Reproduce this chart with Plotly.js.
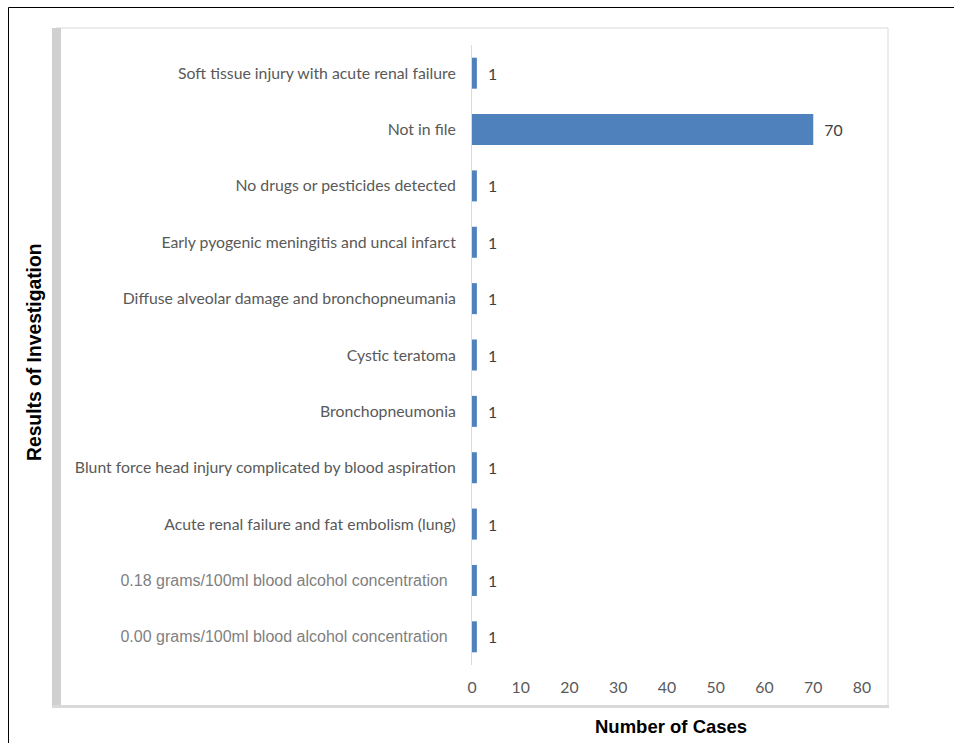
<!DOCTYPE html>
<html><head><meta charset="utf-8">
<script src="https://cdn.plot.ly/plotly-3.0.1.min.js"></script>
<style>html,body{margin:0;padding:0;background:#fff;}#chart{width:954px;height:743px;}</style>
</head><body><div id="chart"></div>
<script>
const categories = [
  "0.00 grams/100ml blood alcohol concentration",
  "0.18 grams/100ml blood alcohol concentration",
  "Acute renal failure and fat embolism (lung)",
  "Blunt force head injury complicated by blood aspiration",
  "Bronchopneumonia",
  "Cystic teratoma",
  "Diffuse alveolar damage and bronchopneumania",
  "Early pyogenic meningitis and uncal infarct",
  "No drugs or pesticides detected",
  "Not in file",
  "Soft tissue injury with acute renal failure"
];
const cases = [1, 1, 1, 1, 1, 1, 1, 1, 1, 70, 1];
const arialLabels = [
  "0.00 grams/100ml blood alcohol concentration",
  "0.18 grams/100ml blood alcohol concentration"
];
const xTicks = [0, 10, 20, 30, 40, 50, 60, 70, 80];

const tickText = categories.map(c => arialLabels.includes(c)
  ? '<span style="font-family:Arial, Liberation Sans;font-size:16px;fill:#7f7f7f">' + c + '</span>\u00a0\u00a0'
  : c);

const W = 954, H = 743, L = 472, R = 862, T = 45, B = 665;
const px = v => (v - L) / (R - L);
const py = v => (B - v) / (B - T);
const FONT = 'Lato, Carlito, sans-serif';

const data = [{
  type: 'bar', orientation: 'h',
  x: cases, y: categories,
  marker: {color: '#4f81bd'},
  width: 0.55,
  text: cases.map(v => '\u00a0\u00a0' + v),
  textposition: 'outside',
  cliponaxis: false,
  textfont: {family: FONT, size: 15.8, color: '#404040'},
  hoverinfo: 'none'
}];

const layout = {
  width: W, height: H,
  margin: {l: L, r: W - R, t: T, b: H - B, pad: 0},
  paper_bgcolor: '#fff', plot_bgcolor: '#fff',
  showlegend: false,
  font: {family: FONT, color: '#595959', size: 15.8},
  xaxis: {
    range: [0, 80], tickvals: xTicks, ticks: '', showgrid: false, zeroline: false,
    showline: false, fixedrange: true, ticklabelstandoff: 11,
    tickfont: {family: FONT, size: 15.8, color: '#595959'}
  },
  yaxis: {
    type: 'category', categoryorder: 'array', categoryarray: categories,
    tickvals: categories, ticktext: tickText,
    ticks: '', showgrid: false, zeroline: false,
    showline: true, linecolor: '#d9d9d9', linewidth: 1,
    ticklabelstandoff: 12, fixedrange: true,
    tickfont: {family: FONT, size: 15.8, color: '#595959'}
  },
  shapes: [
    {type: 'rect', xref: 'paper', yref: 'paper', x0: px(8.5), x1: px(960), y0: py(7.5), y1: py(760),
     line: {color: '#000', width: 1}, fillcolor: 'rgba(0,0,0,0)', layer: 'below'},
    {type: 'rect', xref: 'paper', yref: 'paper', x0: px(56), x1: px(888), y0: py(28), y1: py(706),
     line: {color: '#d9d9d9', width: 1}, fillcolor: 'rgba(0,0,0,0)', layer: 'below'},
    {type: 'rect', xref: 'paper', yref: 'paper', x0: px(52), x1: px(61), y0: py(28), y1: py(707),
     line: {width: 0}, fillcolor: '#d0d0d0', layer: 'below'},
    {type: 'rect', xref: 'paper', yref: 'paper', x0: px(52), x1: px(889), y0: py(705), y1: py(708),
     line: {width: 0}, fillcolor: '#d9d9d9', layer: 'below'}
  ],
  annotations: [
    {text: '<b>Results of Investigation</b>', xref: 'paper', yref: 'paper', x: px(34), y: py(353),
     textangle: -90, showarrow: false, xanchor: 'center', yanchor: 'middle',
     font: {family: 'Arial, Liberation Sans, sans-serif', size: 19.3, color: '#000'}},
    {text: '<b>Number of Cases</b>', xref: 'paper', yref: 'paper', x: px(671), y: py(726),
     showarrow: false, xanchor: 'center', yanchor: 'middle',
     font: {family: 'Arial, Liberation Sans, sans-serif', size: 18.5, color: '#000'}}
  ]
};

Plotly.newPlot('chart', data, layout, {displayModeBar: false, staticPlot: true});
</script></body></html>
